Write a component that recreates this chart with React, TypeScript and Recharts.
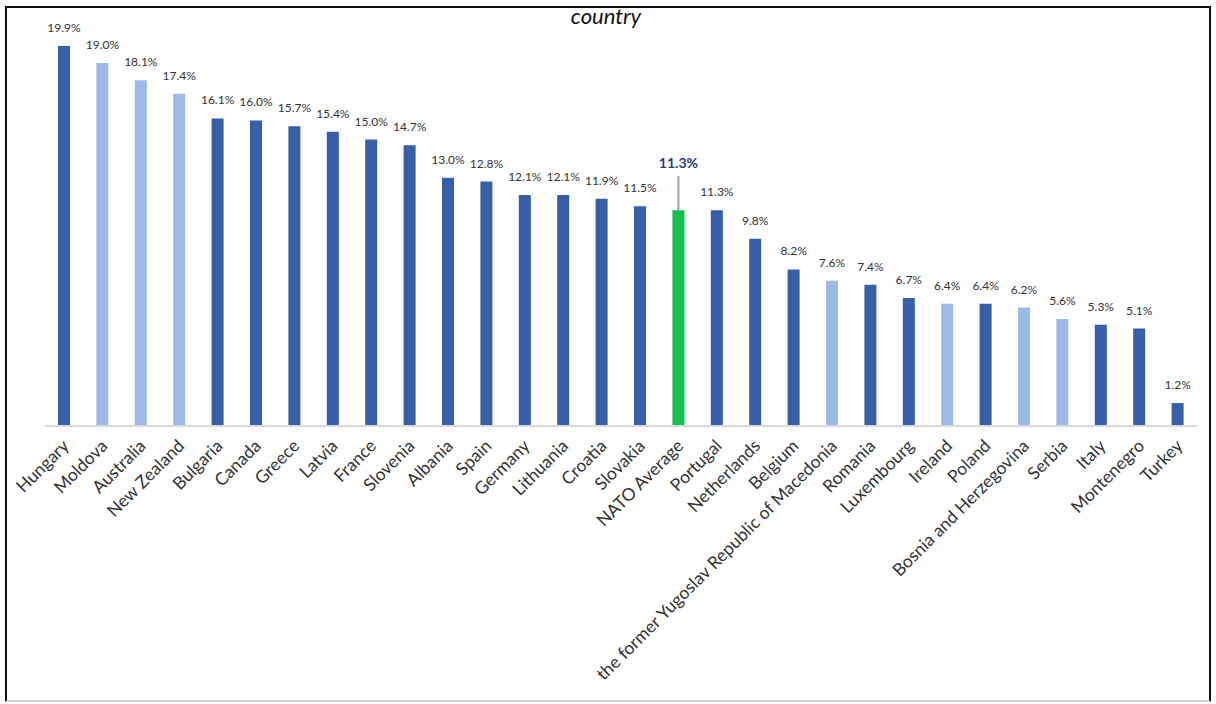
import { BarChart, Bar, XAxis, YAxis, Cell, LabelList } from 'recharts'

const categories = [
  'Hungary', 'Moldova', 'Australia', 'New Zealand', 'Bulgaria', 'Canada', 'Greece', 'Latvia',
  'France', 'Slovenia', 'Albania', 'Spain', 'Germany', 'Lithuania', 'Croatia', 'Slovakia',
  'NATO Average', 'Portugal', 'Netherlands', 'Belgium',
  'the former Yugoslav Republic of Macedonia', 'Romania', 'Luxembourg', 'Ireland', 'Poland',
  'Bosnia and Herzegovina', 'Serbia', 'Italy', 'Montenegro', 'Turkey',
]

const values = [
  19.9, 19.0, 18.1, 17.4, 16.1, 16.0, 15.7, 15.4, 15.0, 14.7, 13.0, 12.8, 12.1, 12.1, 11.9, 11.5,
  11.3, 11.3, 9.8, 8.2, 7.6, 7.4, 6.7, 6.4, 6.4, 6.2, 5.6, 5.3, 5.1, 1.2,
]

// m = NATO member, p = partner, a = average
const groups = [
  'm', 'p', 'p', 'p', 'm', 'm', 'm', 'm', 'm', 'm', 'm', 'm', 'm', 'm', 'm', 'm',
  'a', 'm', 'm', 'm', 'p', 'm', 'm', 'p', 'm', 'p', 'p', 'm', 'm', 'm',
]

const yTicks = [0, 20]

const colors: Record<string, string> = { m: '#365fa8', p: '#9db9ea', a: '#14c04f' }

const data = categories.map((name, i) => ({ name, value: values[i], group: groups[i] }))

const font = 'Lato, "Open Sans", sans-serif'

function CategoryTick({ x, y, payload }: { x?: number; y?: number; payload?: { value: string } }) {
  return (
    <g transform={`translate(${(x ?? 0) + 6},${(y ?? 0) + 13})`}>
      <text
        transform="rotate(-45)"
        textAnchor="end"
        fontFamily={font}
        fontSize={17.5}
        fill="#333"
      >
        {payload?.value}
      </text>
    </g>
  )
}

function ValueLabel(props: any) {
  const { x, y, width, value, index } = props
  const cx = x + width / 2
  if (groups[index] === 'a') {
    return (
      <g>
        <line x1={cx} x2={cx} y1={y - 34} y2={y} stroke="#a0a0a0" strokeWidth={2} />
        <text x={cx} y={y - 42} textAnchor="middle" fontFamily={font} fontSize={14} fontWeight={700} fill="#1f3a86">
          {value.toFixed(1)}%
        </text>
      </g>
    )
  }
  return (
    <text x={cx} y={y - 14} textAnchor="middle" fontFamily={font} fontSize={12} fill="#333">
      {value.toFixed(1)}%
    </text>
  )
}

export default function App() {
  return (
    <div style={{ position: 'fixed', left: 0, top: 0, width: 1216, height: 704, background: '#fff', overflow: 'hidden' }}>
      <div
        style={{
          position: 'absolute', left: 0, width: 1212, top: 2, textAlign: 'center',
          fontFamily: font, fontStyle: 'italic', fontSize: 22, color: '#111',
        }}
      >
        country
      </div>
      <div style={{ position: 'absolute', left: 0, top: 0 }}>
        <BarChart
          width={1216}
          height={704}
          data={data}
          margin={{ top: 44, right: 19, left: 45, bottom: 8 }}
          barCategoryGap={0}
        >
          <XAxis
            dataKey="name"
            interval={0}
            height={270}
            tickLine={false}
            axisLine={{ stroke: '#d9d9d9', strokeWidth: 2 }}
            tick={<CategoryTick />}
          />
          <YAxis hide domain={[0, 20]} ticks={yTicks} />
          <Bar dataKey="value" barSize={12} isAnimationActive={false}>
            {data.map((d) => (
              <Cell key={d.name} fill={colors[d.group]} />
            ))}
            <LabelList dataKey="value" content={<ValueLabel />} />
          </Bar>
        </BarChart>
      </div>
      <div
        style={{
          position: 'absolute', left: 5, top: 6, width: 1206, height: 696, zIndex: 5, pointerEvents: 'none',
          borderLeft: '2px solid #111', borderTop: '2px solid #111', borderRight: '2px solid #111',
          borderBottom: '2px solid #d0d0d0', boxSizing: 'border-box',
        }}
      />
    </div>
  )
}
